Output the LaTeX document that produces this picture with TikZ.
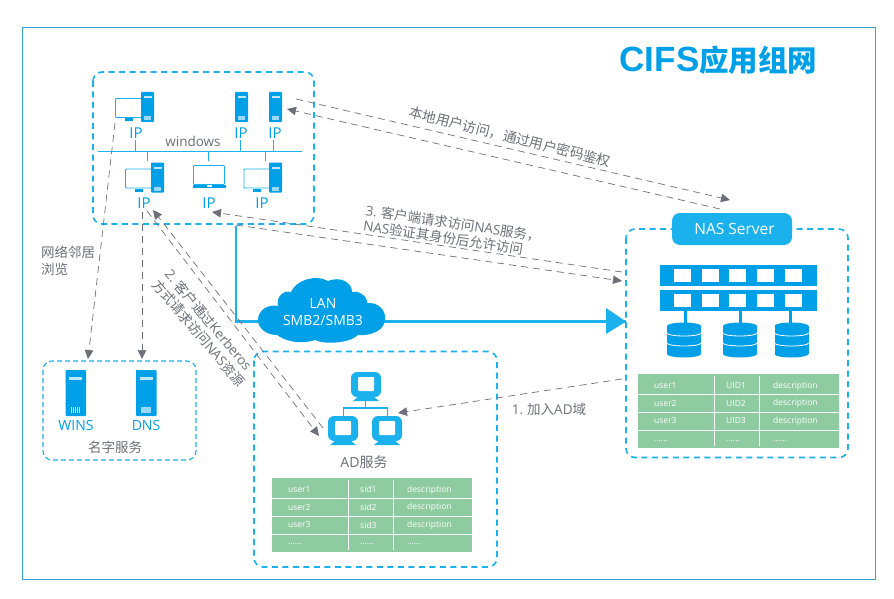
\documentclass[tikz,border=0pt]{standalone}
\usepackage{fontspec}
\setmainfont{Noto Sans CJK SC}
\newfontfamily\latf{Open Sans}
\newfontfamily\arialf{Liberation Sans}
\usetikzlibrary{arrows.meta}
\definecolor{blu}{HTML}{00A0E9}
\definecolor{lblu}{HTML}{1AB1EC}
\definecolor{gry}{HTML}{6E7079}
\definecolor{grn}{HTML}{8FCBA0}
\newcommand{\sixdots}{......}
\newcommand{\la}[1]{{\latf #1}}
\tikzset{x=1pt,y=-1pt,
 zone/.style={draw=lblu,line width=1.6pt,dash pattern=on 6pt off 4.5pt,rounded corners=9pt},
 flow/.style={draw=gry,line width=.7pt,dash pattern=on 7pt off 5pt,-{Triangle[length=9pt,width=8.5pt]}},
 txt/.style={text=gry,inner sep=0pt,font=\fontsize{13.5}{16}\selectfont},
 iplab/.style={text=blu,inner sep=0pt,font=\latf\fontsize{15}{16}\selectfont},
 srvlab/.style={text=blu,inner sep=0pt,font=\latf\fontsize{14}{16}\selectfont},
 wire/.style={draw=lblu,line width=.8pt},
 cell/.style={text=white,inner sep=0pt,anchor=west,yshift=-.8pt,font=\latf\fontsize{8.5}{10}\selectfont},
}
\newcommand{\towerbox}[2]{%
 \fill[blu,rounded corners=.8pt] (#1,#2) rectangle ++(13,30);
 \fill[white,opacity=.75] (#1+3,#2+4) rectangle ++(7.5,2);
 \fill[white,opacity=.6] (#1+3,#2+24) rectangle ++(7,4);
}
\newcommand{\mon}[2]{%
 \draw[lblu,line width=.9pt,fill=white,rounded corners=.8pt] (#1,#2) rectangle ++(26,19);
 \fill[blu] (#1+9,#2+19.5) rectangle ++(8,3.5);
}
\newcommand{\lapt}[2]{%
 \draw[lblu,line width=.9pt,fill=white,rounded corners=1pt] (#1,#2) rectangle ++(31,19);
 \fill[blu] (#1-1,#2+19) rectangle ++(33,3);
 \fill[white] (#1+13,#2+19.5) rectangle ++(5,1.6);
}
\newcommand{\pc}[2]{%
 \fill[lblu,rounded corners=6pt] (#1,#2) rectangle ++(30,25);
 \fill[white,rounded corners=1pt] (#1+7,#2+5) rectangle ++(16,14);
 \fill[lblu] (#1+8,#2+24) -- (#1+22,#2+24) -- (#1+28,#2+29) -- (#1+2,#2+29) -- cycle;
}
\newcommand{\disk}[2]{%
 \fill[blu] (#1,#2+4) rectangle ++(34,28);
 \fill[blu] (#1+17,#2+4) ellipse (17pt and 3.5pt);
 \fill[blu] (#1+17,#2+32) ellipse (17pt and 3.5pt);
 \draw[white,line width=.8pt] (#1,#2+11) arc[start angle=180,end angle=360,x radius=17pt,y radius=3pt];
 \draw[white,line width=.8pt] (#1,#2+21) arc[start angle=180,end angle=360,x radius=17pt,y radius=3pt];
}
\newcommand{\rackbar}[2]{%
 \fill[blu] (#1,#2) rectangle ++(157,20.5);
 \foreach \i in {0,1,2,3,4}{\fill[white] (#1+14+27.7*\i,#2+4) rectangle ++(17,13);}
}
\begin{document}
\begin{tikzpicture}
\useasboundingbox (0,0) rectangle (894,599);
\fill[white] (0,0) rectangle (894,599);
\draw[draw=lblu!75!gray,line width=.7pt] (22.5,27.5) rectangle (875.5,579.5);
\node[text=blu,inner sep=0pt,font=\fontsize{29.5}{32}\selectfont\bfseries] (title) at (718.5,60) {{\arialf\fontsize{35}{36}\selectfont CIFS}应用组网};

% zones
\draw[zone] (93,72) rectangle (314,224);
\draw[zone] (254,351.5) rectangle (497,567);
\draw[zone,line width=1.1pt,dash pattern=on 5pt off 3pt] (43,361) rectangle (196,460);
\draw[zone] (626,229) rectangle (848,457.5);

% thick link
\coordinate (j0) at (236,226);
\coordinate (j1) at (236,321.5);
\coordinate (nasin) at (626,321.5);
\draw[lblu,line width=2.4pt] (j0) -- (j1) -- (nasin);
\fill[lblu] (606,308) -- (626,321.5) -- (606,334) -- cycle;
\fill[blu] (258,320) .. controls (258,310) and (268,304) .. (278,306)
  .. controls (276,296) and (284,290) .. (291,292)
  .. controls (296,280) and (316,274) .. (328,281)
  .. controls (340,276) and (352,282) .. (352,292)
  .. controls (360,290) and (368,298) .. (367,303)
  .. controls (378,302) and (386,310) .. (385,319)
  .. controls (385,330) and (372,336) .. (358,335)
  .. controls (350,343) and (325,345) .. (315,340)
  .. controls (300,345) and (285,341) .. (277,335)
  .. controls (266,335) and (258,328) .. cycle;
\node[text=white,inner sep=0pt,align=center,font=\latf\fontsize{14}{17}\selectfont] (lan) at (323,312) {LAN\\SMB2/SMB3};

% windows network
\draw[wire] (98,151) -- (302,151);
\foreach \xa/\ya/\yb in {135/140/151,240/140/151,273/140/151,147/151/161,208/151/161,265/151/161}
  \draw[wire] (\xa,\ya) -- (\xa,\yb);
\mon{115.5}{98.5}\towerbox{141}{92}
\towerbox{235}{92}
\towerbox{269}{92}
\mon{125.5}{169}\towerbox{151}{162.5}
\lapt{193.5}{165.5}
\mon{244}{169}\towerbox{269}{162.5}
\node[iplab] (ip1) at (136,133) {IP};
\node[iplab] (ip2) at (241,133) {IP};
\node[iplab] (ip3) at (275,133) {IP};
\node[iplab] (ip4) at (144,203) {IP};
\node[iplab] (ip5) at (209,203) {IP};
\node[iplab] (ip6) at (262,203) {IP};
\node[txt,font=\latf\fontsize{13.5}{15}\selectfont] (win) at (193,141) {windows};

% name service
\fill[blu,rounded corners=.8pt] (65.5,370) rectangle ++(20.5,46);
\fill[blu,rounded corners=.8pt] (136,370) rectangle ++(20.5,46);
\fill[white,opacity=.75] (69,377) rectangle ++(13,2.5);
\fill[white,opacity=.75] (140,377) rectangle ++(13,2.5);
\foreach \d in {0,1.9,3.8,5.7,7.6}\fill[white,opacity=.8] (71+\d,407) rectangle ++(1,5.5);
\fill[white,opacity=.6] (141,407) rectangle ++(10,5.5);
\node[srvlab] (wins) at (76,425) {WINS};
\node[srvlab] (dns) at (146,425) {DNS};
\node[txt] (names) at (115,447) {名字服务};

% AD
\draw[lblu,line width=1.2pt] (365.5,400) -- (365.5,408) (343.5,416) -- (343.5,408) -- (387.5,408) -- (387.5,416);
\pc{351}{372}
\pc{328}{416}
\pc{372}{416}
\node[txt,font=\fontsize{14}{16}\selectfont] (adl) at (364,462) {\la{AD}服务};

% AD table
\fill[grn] (272,478) rectangle (472,552);
\draw[white,line width=.8pt] (272,498.5) -- (472,498.5) (272,516) -- (472,516) (272,534.5) -- (472,534.5) (348,480) -- (348,550) (393,480) -- (393,550);
\foreach \t/\y in {user1/489,user2/507,user3/524,\sixdots/543}\node[cell] at (288,\y) {\t};
\foreach \t/\y in {sid1/489,sid2/507,sid3/525,\sixdots/543}\node[cell] at (360,\y) {\t};
\foreach \t/\y in {description/489,description/506,description/524,\sixdots/543}\node[cell] at (407,\y) {\t};

% NAS
\node[fill=lblu,rounded corners=8pt,minimum width=120pt,minimum height=32pt,inner sep=0pt,text=white,font=\latf\fontsize{15.5}{17}\selectfont] (nas) at (732,229) {\hspace{5pt}NAS Server};
\rackbar{660}{265}
\rackbar{660}{290}
\fill[blu] (683.5,310) rectangle (686.5,323);
\fill[blu] (738.5,310) rectangle (741.5,323);
\fill[blu] (788.5,310) rectangle (791.5,323);
\disk{667}{322}\disk{723}{322}\disk{774.5}{322}
\fill[grn] (638,374) rectangle (839,448);
\draw[white,line width=.8pt] (638,394.5) -- (839,394.5) (638,412) -- (839,412) (638,430.5) -- (839,430.5) (714,376) -- (714,446) (759.5,376) -- (759.5,446);
\foreach \t/\y in {user1/385,user2/403,user3/420,\sixdots/440}\node[cell] at (654,\y) {\t};
\foreach \t/\y in {UID1/385,UID2/403,UID3/420,\sixdots/440}\node[cell] at (726,\y) {\t};
\foreach \t/\y in {description/385,description/402,description/420,\sixdots/440}\node[cell] at (773,\y) {\t};

% flows
\coordinate (a1s) at (296,99);   \coordinate (a1e) at (730,200);
\coordinate (a2s) at (720,209);  \coordinate (a2e) at (287,109);
\coordinate (b1s) at (622,272);  \coordinate (b1e) at (212,212);
\coordinate (b2s) at (236,225);  \coordinate (b2e) at (622,281);
\coordinate (c1s) at (115,123);  \coordinate (c1e) at (88,359);
\coordinate (c2s) at (142,212);  \coordinate (c2e) at (142,359);
\coordinate (d1s) at (323,428);  \coordinate (d1e) at (153,210);
\coordinate (d2s) at (147,211);  \coordinate (d2e) at (319,436);
\coordinate (e1s) at (622,379);  \coordinate (e1e) at (398,413);
\draw[flow] (a1s) -- (a1e);
\draw[flow] (a2s) -- (a2e);
\draw[flow] (b1s) -- (b1e);
\draw[flow] (b2s) -- (b2e);
\draw[flow] (c1s) -- (c1e);
\draw[flow] (c2s) -- (c2e);
\draw[flow] (d1s) -- (d1e);
\draw[flow] (d2s) -- (d2e);
\draw[flow] (e1s) -- (e1e);

% labels
\node[txt,align=left,anchor=north west,font=\fontsize{13.5}{17}\selectfont] (nb) at (41,246) {网络邻居\\浏览};
\node[txt,rotate=-14,font=\fontsize{13.8}{17}\selectfont] (l1) at (510,137) {本地用户访问，通过用户密码鉴权};
\node[txt,rotate=-8.5,align=left] (l3) at (452,231) {\la{3.} 客户端请求访问\la{NAS}服务，\\\la{NAS}验证其身份后允许访问};
\node[txt,rotate=-50,align=left] (l2) at (205,328) {\la{2.} 客户通过\la{Kerberos}\\方式请求访问\la{NAS}资源};
\node[txt] (l4) at (549,409) {\la{1.} 加入\la{AD}域};
\end{tikzpicture}
\end{document}
